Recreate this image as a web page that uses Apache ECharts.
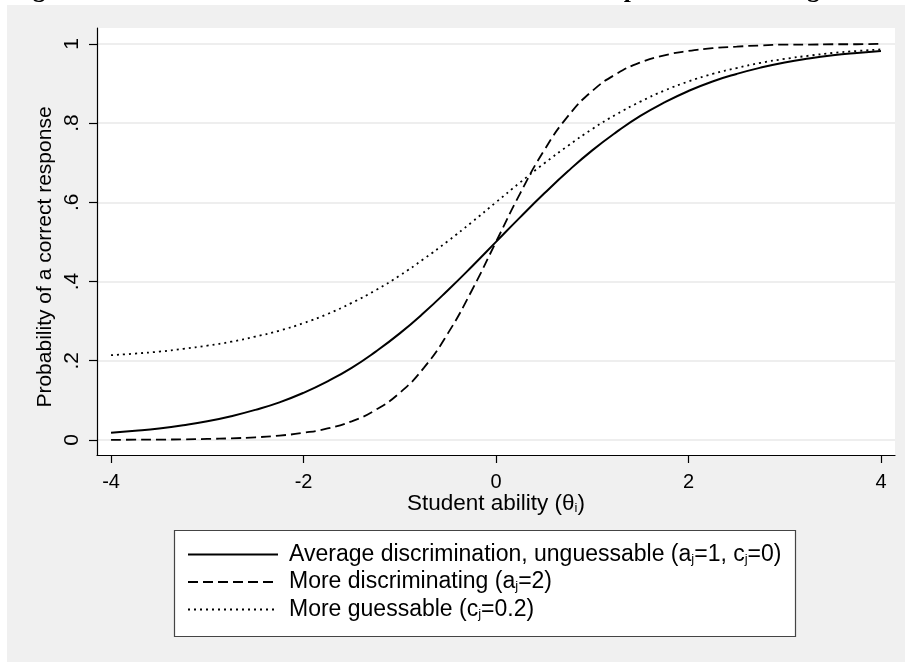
<!DOCTYPE html>
<html>
<head>
<meta charset="utf-8">
<script src="https://cdn.jsdelivr.net/npm/echarts@6/dist/echarts.min.js"></script>
<style>html,body{margin:0;padding:0;background:#fff}#c{width:905px;height:662px}</style>
</head>
<body>
<div id="c"></div>
<script>
// ---- data ----
const theta = [-4,-3.75,-3.5,-3.25,-3,-2.75,-2.5,-2.25,-2,-1.75,-1.5,-1.25,-1,-0.75,-0.5,-0.25,0,
  0.25,0.5,0.75,1,1.25,1.5,1.75,2,2.25,2.5,2.75,3,3.25,3.5,3.75,4];
const averageItem = [0.018,0.023,0.029,0.037,0.047,0.060,0.076,0.095,0.119,0.148,0.182,0.223,0.269,0.321,0.378,0.438,0.5,
  0.562,0.622,0.679,0.731,0.777,0.818,0.852,0.881,0.905,0.924,0.940,0.953,0.963,0.971,0.977,0.982];
const discriminatingItem = [0.0003,0.0006,0.0009,0.0015,0.0025,0.0041,0.0067,0.011,0.018,0.029,0.047,0.076,0.119,0.182,0.269,0.378,0.5,
  0.622,0.731,0.818,0.881,0.924,0.953,0.971,0.982,0.989,0.993,0.996,0.998,0.998,0.999,0.999,1.0];
const guessableItem = [0.214,0.218,0.223,0.230,0.238,0.248,0.261,0.276,0.295,0.318,0.346,0.378,0.415,0.457,0.502,0.550,0.600,
  0.650,0.698,0.743,0.785,0.822,0.854,0.882,0.905,0.924,0.939,0.952,0.962,0.970,0.977,0.982,0.986];
const xTicks = [-4,-2,0,2,4];
const xTickLabels = ['-4','-2','0','2','4'];
const yTicks = [0,0.2,0.4,0.6,0.8,1];
const yTickLabels = ['0','.2','.4','.6','.8','1'];
const seriesNames = ['avg','disc','guess'];
const legendLabels = [
  'Average discrimination, unguessable (a{sub|j}=1, c{sub|j}=0)',
  'More discriminating (a{sub|j}=2)',
  'More guessable (c{sub|j}=0.2)'
];
const xTitle = 'Student ability (θ{sub|i})';
const yTitle = 'Probability of a correct response';
const titleText = 'Figure 1. Item characteristic curves for three items with parameters changed';

const FONT = 'Liberation Sans, Arial, Helvetica, sans-serif';
const chart = echarts.init(document.getElementById('c'));
const pairs = arr => theta.map((t, i) => [t, arr[i]]);
const sub = { fontSize: 13, verticalAlign: 'bottom', lineHeight: 13, fontFamily: FONT, color: '#000' };

chart.setOption({
  backgroundColor: '#fff',
  animation: false,
  graphic: [
    { type: 'text', z: -3, x: 10, y: 3, style: { text: titleText, font: 'bold 25.5px "Liberation Serif", "Times New Roman", serif', fill: '#000', verticalAlign: 'bottom' } },
    { type: 'rect', z: -2, shape: { x: 7, y: 5, width: 898, height: 657 }, style: { fill: '#f0f0f0' } },
    { type: 'rect', z: 2, shape: { x: 174.5, y: 530.5, width: 621, height: 106 }, style: { fill: '#fff', stroke: '#444', lineWidth: 1.2 } },
    { type: 'text', z: 3, x: 45, y: 257, rotation: Math.PI / 2,
      style: { text: yTitle, font: '21px ' + FONT, fill: '#000', align: 'center', verticalAlign: 'middle' } }
  ],
  grid: { left: 97, right: 10, top: 28, bottom: 207, show: true, backgroundColor: '#fff', borderWidth: 0 },
  xAxis: {
    type: 'value', min: -4.146, max: 4.146,
    name: xTitle, nameLocation: 'middle', nameGap: 37, nameMoveOverlap: false,
    nameTextStyle: { fontFamily: FONT, fontSize: 22.5, color: '#000', rich: { sub: sub } },
    axisLine: { show: true, onZero: false, lineStyle: { color: '#000', width: 1.2 } },
    axisTick: { show: true, length: 8, customValues: xTicks, lineStyle: { color: '#000', width: 1.2 } },
    axisLabel: { customValues: xTicks, margin: 17, fontFamily: FONT, fontSize: 20, color: '#000',
      formatter: v => xTickLabels[xTicks.indexOf(v)] },
    splitLine: { show: false }
  },
  yAxis: {
    type: 'value', min: -0.038, max: 1.04,
    axisLine: { show: true, onZero: false, lineStyle: { color: '#000', width: 1.2 } },
    axisTick: { show: true, length: 8, customValues: yTicks, lineStyle: { color: '#000', width: 1.2 } },
    axisLabel: { customValues: yTicks, rotate: 90, margin: 14, fontFamily: FONT, fontSize: 21, color: '#000',
      formatter: v => yTickLabels[yTicks.indexOf(v)] },
    splitLine: { show: true, lineStyle: { color: '#e8e8e8', width: 1.5 } }
  },
  legend: {
    orient: 'vertical', left: 182, top: 538, z: 4,
    data: seriesNames,
    itemWidth: 90, itemHeight: 14, itemGap: 4.5,
    itemStyle: { color: 'rgba(0,0,0,0)', borderWidth: 0, opacity: 0 },
    formatter: name => legendLabels[seriesNames.indexOf(name)],
    textStyle: { fontFamily: FONT, fontSize: 23, color: '#000', lineHeight: 22, padding: [0, 0, 0, 6], rich: { sub: sub } }
  },
  series: [
    { name: 'avg', type: 'line', data: pairs(averageItem), smooth: true, showSymbol: false,
      color: '#000', lineStyle: { color: '#000', width: 2, type: 'solid' } },
    { name: 'disc', type: 'line', data: pairs(discriminatingItem), smooth: true, showSymbol: false,
      color: '#000', lineStyle: { color: '#000', width: 1.8, type: [10, 5] } },
    { name: 'guess', type: 'line', data: pairs(guessableItem), smooth: true, showSymbol: false,
      color: '#000', lineStyle: { color: '#000', width: 1.8, type: [2, 4] } }
  ]
});
</script>
</body>
</html>
